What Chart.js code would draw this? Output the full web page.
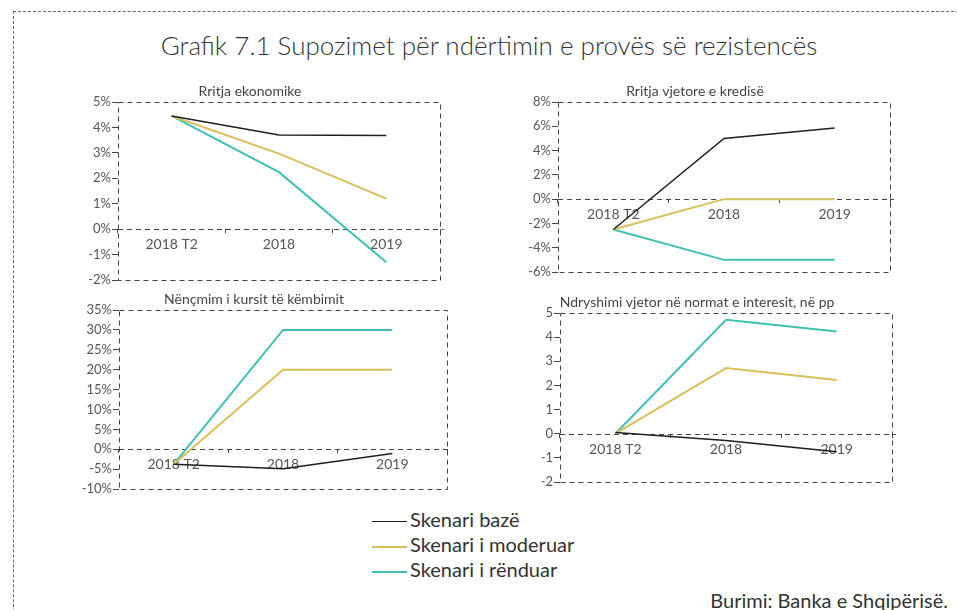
<!DOCTYPE html>
<html>
<head>
<meta charset="utf-8">
<script src="https://cdn.jsdelivr.net/npm/chart.js@4"></script>
<style>
  html, body { margin: 0; padding: 0; background: #fff; overflow: hidden; }
  body { width: 957px; height: 610px; position: relative; font-family: Lato, "Open Sans", sans-serif; color: #333; }
  #frame { position: absolute; left: 13px; top: 11px; width: 1000px; height: 700px;
           border-left: 1px dashed #666; border-top: 1px dashed #666; }
  #title { position: absolute; left: 0; width: 978px; top: 29px; text-align: center; font-size: 26px; color: #333; font-weight: 300; }
  canvas { position: absolute; }
  #legend { position: absolute; left: 372px; top: 507px; font-size: 20px; color: #333; }
  #legend div { height: 25px; line-height: 25px; white-space: nowrap; }
  #legend span.ln { display: inline-block; width: 35px; vertical-align: middle; margin-right: 3px; }
  #source { position: absolute; right: 9px; top: 588px; font-size: 20px; color: #333; }
</style>
</head>
<body>
<div id="frame"></div>
<div id="title">Grafik 7.1 Supozimet për ndërtimin e provës së rezistencës</div>
<canvas id="c1"></canvas>
<canvas id="c2"></canvas>
<canvas id="c3"></canvas>
<canvas id="c4"></canvas>
<div id="legend"></div>
<div id="source">Burimi: Banka e Shqipërisë.</div>
<script>
// data
const categories = ['2018 T2', '2018', '2019'];
const seriesNames = ['Skenari bazë', 'Skenari i moderuar', 'Skenari i rënduar'];
const seriesColors = ['#1e1e1e', '#d8bf5a', '#3fc0b1'];

const gdpBase = [4.45, 3.7, 3.68];
const gdpModerate = [4.45, 2.97, 1.2];
const gdpSevere = [4.45, 2.24, -1.3];
const gdpTicks = [-2, -1, 0, 1, 2, 3, 4, 5];

const creditBase = [-2.5, 5.0, 5.85];
const creditModerate = [-2.5, 0, 0];
const creditSevere = [-2.5, -5.0, -5.0];
const creditTicks = [-6, -4, -2, 0, 2, 4, 6, 8];

const fxBase = [-3.8, -4.9, -1.1];
const fxModerate = [-3.8, 20, 20];
const fxSevere = [-3.8, 30, 30];
const fxTicks = [-10, -5, 0, 5, 10, 15, 20, 25, 30, 35];

const rateBase = [0.05, -0.28, -0.75];
const rateModerate = [0, 2.72, 2.22];
const rateSevere = [0, 4.72, 4.23];
const rateTicks = [-2, -1, 0, 1, 2, 3, 4, 5];

const FONT = 'Lato, "Open Sans", sans-serif';

// dashed box round the plot + dashed zero line
const framePlugin = {
  id: 'frame',
  beforeDatasetsDraw(chart) {
    const {ctx, chartArea: a} = chart;
    const y0 = chart.scales.y.getPixelForValue(0);
    ctx.save();
    ctx.strokeStyle = '#444';
    ctx.lineWidth = 1;
    ctx.setLineDash([5, 4]);
    ctx.strokeRect(a.left + 0.5, a.top + 0.5, a.right - a.left, a.bottom - a.top);
    ctx.beginPath();
    ctx.moveTo(a.left, Math.round(y0) + 0.5);
    ctx.lineTo(a.right + 4, Math.round(y0) + 0.5);
    ctx.stroke();
    ctx.restore();
  }
};

function makePanel(id, title, area, series, ticks, unit) {
  const cv = document.getElementById(id);
  const yw = 58, th = 24;
  const left = area.l - yw, top = area.t - th;
  const w = area.r - left + 14, h = area.b - top + 10;
  cv.style.left = left + 'px';
  cv.style.top = top + 'px';
  cv.width = w; cv.height = h;
  cv.style.width = w + 'px'; cv.style.height = h + 'px';

  new Chart(cv, {
    type: 'line',
    data: {
      labels: categories,
      datasets: series.map((d, i) => ({
        label: seriesNames[i],
        data: d,
        borderColor: seriesColors[i],
        borderWidth: i === 0 ? 1.5 : 2,
        pointRadius: 0,
        tension: 0
      }))
    },
    options: {
      responsive: false,
      animation: false,
      layout: { padding: { left: 0, right: w - (area.r - left), top: 0, bottom: h - (area.b - top) } },
      plugins: {
        legend: { display: false },
        tooltip: { enabled: false },
        title: {
          display: true, text: title, color: '#444',
          font: { family: FONT, size: 14, weight: 'normal', lineHeight: 1 },
          padding: { top: 6, bottom: 4 }
        }
      },
      scales: {
        x: {
          position: { y: 0 },
          offset: true,
          afterFit: s => { s.height = 0; },
          border: { display: false },
          grid: { offset: true, drawOnChartArea: false, drawTicks: true, tickLength: 4, color: '#444' },
          ticks: { color: '#555', font: { family: FONT, size: 14 }, padding: 3, maxRotation: 0 }
        },
        y: {
          min: ticks[0],
          max: ticks[ticks.length - 1],
          afterFit: s => { s.width = yw; },
          border: { display: false },
          grid: { drawOnChartArea: false, drawTicks: true, tickLength: 6, color: '#444' },
          ticks: {
            stepSize: ticks[1] - ticks[0],
            color: '#555', padding: 1,
            font: { family: FONT, size: 13 },
            callback: v => v + unit
          }
        }
      }
    },
    plugins: [framePlugin]
  });
}

makePanel('c1', 'Rritja ekonomike', {l: 118, t: 102, r: 440, b: 280},
  [gdpBase, gdpModerate, gdpSevere], gdpTicks, '%');
makePanel('c2', 'Rritja vjetore e kredisë', {l: 558, t: 102, r: 890, b: 272},
  [creditBase, creditModerate, creditSevere], creditTicks, '%');
makePanel('c3', 'Nënçmim i kursit të këmbimit', {l: 119, t: 310, r: 447, b: 489},
  [fxBase, fxModerate, fxSevere], fxTicks, '%');
makePanel('c4', 'Ndryshimi vjetor në normat e interesit, në pp', {l: 560, t: 313, r: 892, b: 482},
  [rateBase, rateModerate, rateSevere], rateTicks, '');

// shared legend
const lg = document.getElementById('legend');
seriesNames.forEach((n, i) => {
  const row = document.createElement('div');
  const ln = document.createElement('span');
  ln.className = 'ln';
  ln.style.borderTop = (i === 0 ? 1.5 : 2) + 'px solid ' + seriesColors[i];
  row.appendChild(ln);
  row.appendChild(document.createTextNode(n));
  lg.appendChild(row);
});
</script>
</body>
</html>
